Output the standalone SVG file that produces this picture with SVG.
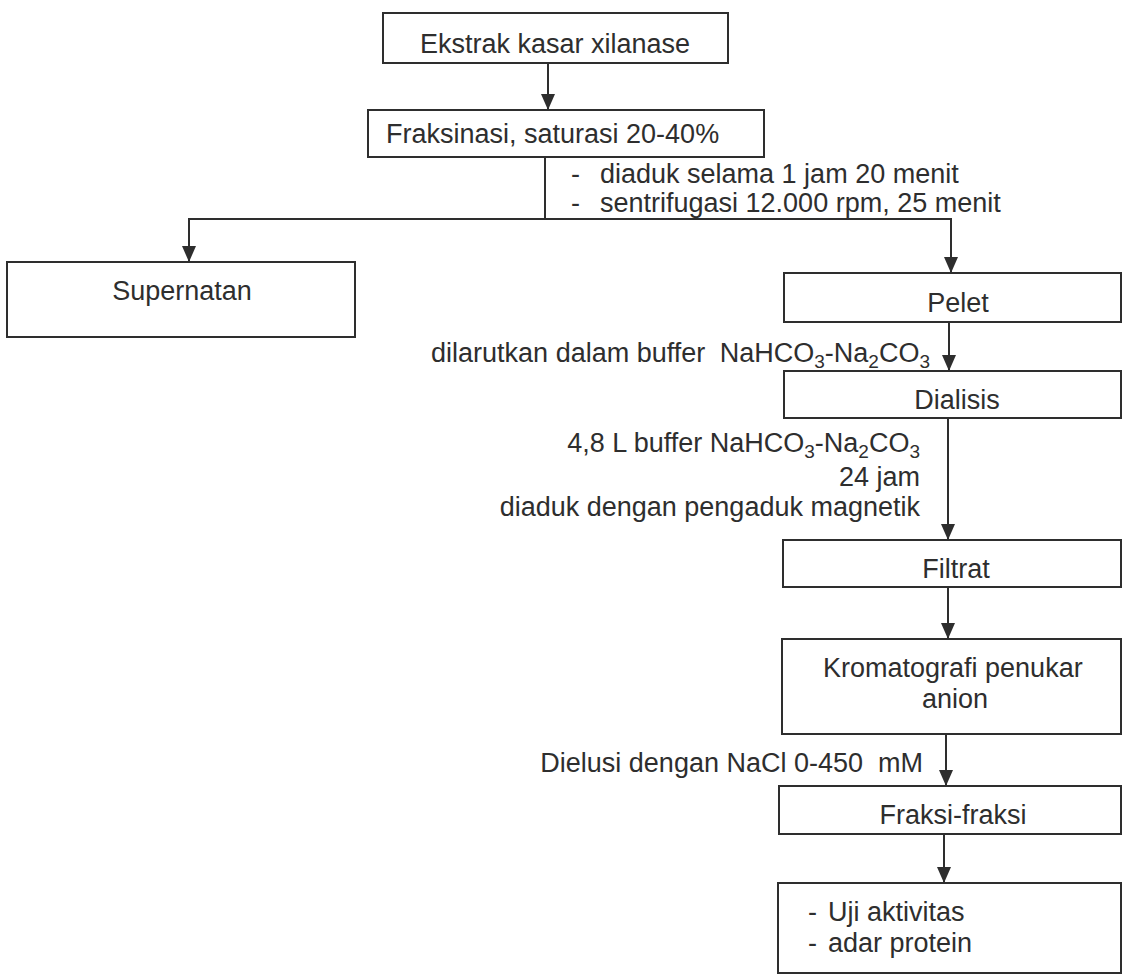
<svg xmlns="http://www.w3.org/2000/svg" width="1124" height="976" viewBox="0 0 1124 976">
<style>
.box{fill:none;stroke:#2e2e2e;stroke-width:2}
.t{font-family:"Liberation Sans",Arial,sans-serif;font-size:27px;fill:#2e2e2e}
.c{text-anchor:middle}
.e{text-anchor:end}
.conn{fill:none;stroke:#2e2e2e;stroke-width:2}
</style>
<defs>
<marker id="ah" markerUnits="userSpaceOnUse" markerWidth="17" markerHeight="14" refX="16" refY="7" orient="auto">
<path d="M0,0 L16,7 L0,14 z" fill="#2e2e2e"/>
</marker>
</defs>
<rect width="1124" height="976" fill="#ffffff"/>
<g id="connectors">
<path class="conn" d="M548,63 V110" marker-end="url(#ah)"/>
<path class="conn" d="M545,157 V219"/>
<path class="conn" d="M545,219 H189 V262" marker-end="url(#ah)"/>
<path class="conn" d="M545,219 H951 V273" marker-end="url(#ah)"/>
<path class="conn" d="M949,322 V371" marker-end="url(#ah)"/>
<path class="conn" d="M948,418 V540" marker-end="url(#ah)"/>
<path class="conn" d="M948,587 V639" marker-end="url(#ah)"/>
<path class="conn" d="M946,734 V786" marker-end="url(#ah)"/>
<path class="conn" d="M944,834 V883" marker-end="url(#ah)"/>
</g>
<g id="labels">
<text class="t" x="571" y="183" font-size="26">-<tspan x="600">diaduk selama 1 jam 20 menit</tspan></text>
<text class="t" x="571" y="212" font-size="26">-<tspan x="600">sentrifugasi 12.000 rpm, 25 menit</tspan></text>
<text class="t e" x="930" y="362">dilarutkan dalam buffer <tspan dx="7">NaHCO</tspan><tspan dy="6" font-size="19">3</tspan><tspan dy="-6">-Na</tspan><tspan dy="6" font-size="19">2</tspan><tspan dy="-6">CO</tspan><tspan dy="6" font-size="19">3</tspan></text>
<text class="t e" x="920" y="452">4,8 L buffer NaHCO<tspan dy="6" font-size="19">3</tspan><tspan dy="-6">-Na</tspan><tspan dy="6" font-size="19">2</tspan><tspan dy="-6">CO</tspan><tspan dy="6" font-size="19">3</tspan></text>
<text class="t e" x="920" y="486">24 jam</text>
<text class="t e" x="920" y="516">diaduk dengan pengaduk magnetik</text>
<text class="t e" x="923" y="772" xml:space="preserve">Dielusi dengan NaCl 0-450  mM</text>
</g>
<g id="n-ekstrak">
<rect class="box" x="383" y="13" width="345" height="50"/>
<text class="t c" x="555" y="53">Ekstrak kasar xilanase</text>
</g>
<g id="n-fraksinasi">
<rect class="box" x="368" y="110" width="396" height="47"/>
<text class="t" x="386" y="143">Fraksinasi, saturasi 20-40%</text>
</g>
<g id="n-supernatan">
<rect class="box" x="7" y="262" width="348" height="75"/>
<text class="t c" x="182" y="300">Supernatan</text>
</g>
<g id="n-pelet">
<rect class="box" x="784" y="273" width="337" height="49"/>
<text class="t c" x="958" y="312">Pelet</text>
</g>
<g id="n-dialisis">
<rect class="box" x="784" y="371" width="337" height="47"/>
<text class="t c" x="957" y="409">Dialisis</text>
</g>
<g id="n-filtrat">
<rect class="box" x="783" y="540" width="338" height="47"/>
<text class="t c" x="956" y="578">Filtrat</text>
</g>
<g id="n-kromatografi">
<rect class="box" x="782" y="639" width="339" height="95"/>
<text class="t" x="823" y="677">Kromatografi penukar</text>
<text class="t c" x="955" y="708">anion</text>
</g>
<g id="n-fraksi">
<rect class="box" x="779" y="786" width="342" height="48"/>
<text class="t c" x="953" y="824">Fraksi-fraksi</text>
</g>
<g id="n-uji">
<rect class="box" x="778" y="883" width="343" height="90"/>
<text class="t" x="808" y="921">-<tspan x="828">Uji aktivitas</tspan></text>
<text class="t" x="808" y="952">-<tspan x="828">adar protein</tspan></text>
</g>
</svg>
